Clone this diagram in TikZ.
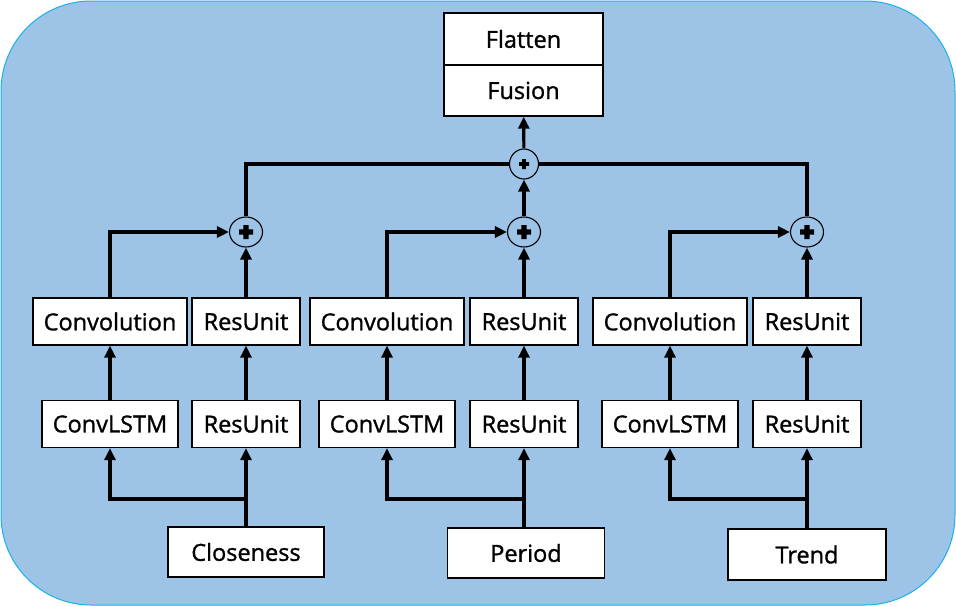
\documentclass[tikz,border=0pt]{standalone}
\usepackage{fontspec}
\setmainfont{Open Sans}
\newfontfamily\boxfont{Open Sans}[RawFeature={embolden=1.2}]
\usetikzlibrary{arrows.meta,shapes.geometric}
\definecolor{panelblue}{HTML}{9DC3E6}
\definecolor{paneledge}{HTML}{1AB0EC}
\tikzset{
  box/.style={draw=black,line width=1.3pt,fill=white,inner sep=0pt,
    minimum height=47pt,font=\boxfont\fontsize{23.5}{27}\selectfont},
  addnode/.style={draw=black,line width=1.1pt,ellipse,inner sep=0pt,
    minimum width=33pt,minimum height=30pt,
    path picture={\fill (path picture bounding box.center) +(-#1,-0.36*#1) rectangle +(#1,0.36*#1)
      +(-0.36*#1,-#1) rectangle +(0.36*#1,#1);}},
  addnode/.default=7pt,
  link/.style={line width=3.2pt,-{Triangle[length=12pt,width=11pt]}},
  wire/.style={line width=3.2pt},
}
\begin{document}
\begin{tikzpicture}[x=1pt,y=-1pt]
    \useasboundingbox (0,0) rectangle (956,606);
    \draw[fill=panelblue,draw=paneledge,line width=1pt,rounded corners=90pt] (1,1) rectangle (955,605);
    % output
    \node[box,minimum width=159pt,minimum height=52pt] (flatten) at (523.5,39) {Flatten};
    \node[box,minimum width=159pt,minimum height=51pt] (fusion) at (523.5,90.5) {Fusion};
    \node[addnode=5pt,minimum width=29pt] (addtop) at (524,164) {};
    % closeness
    \node[box,minimum width=154pt] (conv1) at (110,321.5) {Convolution};
    \node[box,minimum width=108pt] (resa1) at (246,321.5) {ResUnit};
    \node[box,minimum width=136pt] (lstm1) at (110,424) {ConvLSTM};
    \node[box,minimum width=108pt] (resb1) at (246,424) {ResUnit};
    \node[box,minimum width=156pt,minimum height=50pt] (close) at (246,552) {Closeness};
    \node[addnode] (add1) at (246,232) {};
    % period
    \node[box,minimum width=154pt] (conv2) at (387,321.5) {Convolution};
    \node[box,minimum width=108pt] (resa2) at (524,321.5) {ResUnit};
    \node[box,minimum width=136pt] (lstm2) at (387,424) {ConvLSTM};
    \node[box,minimum width=108pt] (resb2) at (524,424) {ResUnit};
    \node[box,minimum width=157pt,minimum height=50pt] (period) at (526,553) {Period};
    \node[addnode] (add2) at (524,232) {};
    % trend
    \node[box,minimum width=154pt] (conv3) at (670,321.5) {Convolution};
    \node[box,minimum width=108pt] (resa3) at (807,321.5) {ResUnit};
    \node[box,minimum width=136pt] (lstm3) at (670,424) {ConvLSTM};
    \node[box,minimum width=108pt] (resb3) at (807,424) {ResUnit};
    \node[box,minimum width=158pt,minimum height=51pt] (trend) at (807,554.5) {Trend};
    \node[addnode] (add3) at (807,232) {};
    % branch points
    \coordinate (j1) at (246,499);
    \coordinate (j2) at (524,499);
    \coordinate (j3) at (807,499);
    % connectors
    \draw[wire] (close.north) -- (j1);
    \draw[link] (j1) -| (lstm1.south);
    \draw[link] (j1) -- (resb1.south);
    \draw[link] (lstm1) -- (conv1);
    \draw[link] (resb1) -- (resa1);
    \draw[link] (conv1.north) |- (add1.west);
    \draw[link] (resa1) -- (add1);
    \draw[wire] (period.north -| j2) -- (j2);
    \draw[link] (j2) -| (lstm2.south);
    \draw[link] (j2) -- (resb2.south);
    \draw[link] (lstm2) -- (conv2);
    \draw[link] (resb2) -- (resa2);
    \draw[link] (conv2.north) |- (add2.west);
    \draw[link] (resa2) -- (add2);
    \draw[wire] (trend.north) -- (j3);
    \draw[link] (j3) -| (lstm3.south);
    \draw[link] (j3) -- (resb3.south);
    \draw[link] (lstm3) -- (conv3);
    \draw[link] (resb3) -- (resa3);
    \draw[link] (conv3.north) |- (add3.west);
    \draw[link] (resa3) -- (add3);
    \draw[wire] (add1.north) |- (addtop.west);
    \draw[wire] (add3.north) |- (addtop.east);
    \draw[link] (add2) -- (addtop);
    \draw[link] (addtop) -- (fusion);
\end{tikzpicture}
\end{document}
